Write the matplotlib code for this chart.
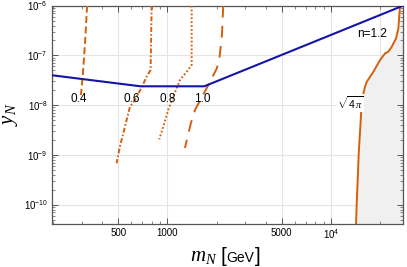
import matplotlib
matplotlib.use("Agg")
import matplotlib.pyplot as plt
import numpy as np

plt.rcParams['font.family'] = ['Liberation Sans', 'DejaVu Sans']
plt.rcParams['mathtext.fontset'] = 'custom'
plt.rcParams['mathtext.rm'] = 'Liberation Sans'
plt.rcParams['mathtext.sf'] = 'Liberation Sans'
plt.rcParams['mathtext.it'] = 'Liberation Serif:italic'
plt.rcParams['lines.scale_dashes'] = False

# ---- data ----
blue_m = [197, 685, 1680, 27540]
blue_y = [4.0e-8, 2.4e-8, 2.4e-8, 1e-6]

c04_m = [323, 313, 304, 296]
c04_y = [1e-6, 1.62e-7, 4.05e-8, 1.6e-8]
c06_m = [801, 789, 746, 696, 633, 590, 550, 512, 489]
c06_y = [1e-6, 5.1e-8, 3.74e-8, 2.29e-8, 1.27e-8, 9.3e-9, 3.7e-9, 1.47e-9, 6.8e-10]
c08_m = [1406, 1406, 1311, 1193, 1085, 1011, 943, 891]
c08_y = [1e-6, 6.43e-8, 4.71e-8, 3.21e-8, 1.48e-8, 8.0e-9, 3.7e-9, 2.06e-9]
c10_m = [2194, 2154, 2080, 2008, 1820, 1649, 1473, 1392, 1279]
c10_y = [1e-6, 2.58e-7, 8.89e-8, 5.6e-8, 2.93e-8, 1.6e-8, 8.0e-9, 4.39e-9, 1.38e-9]
pert_m = [26400, 25800, 24980, 23510, 22410, 21390, 19940, 18150, 16540, 16140,
          15410, 15190, 14770, 14360, 14220]
pert_y = [1e-6, 3.51e-7, 2.21e-7, 1.5e-7, 1.19e-7, 1.1e-7, 8.1e-8, 4.71e-8, 2.96e-8,
          2.35e-8, 1.27e-8, 5.04e-9, 1.08e-9, 1.07e-10, 4.1e-11]

curve_labels = ['0.4', '0.6', '0.8', '1.0']
label_m = [289, 604, 1003, 1642]
label_y = 1.33e-8

x_ticks = [500, 1000, 5000, 1e4]
x_ticklabels = ['500', '1000', '5000', r'$10^{4}$']
y_ticks = [1e-10, 1e-9, 1e-8, 1e-7, 1e-6]
y_ticklabels = [r'$10^{-10}$', r'$10^{-9}$', r'$10^{-8}$', r'$10^{-7}$', r'$10^{-6}$']
grid_x = [500, 1000, 5000, 1e4, 2e4]

xlim = (197, 27540)
ylim = (4.1e-11, 1e-6)

W, H = 407, 267
fig = plt.figure(figsize=(W/100, H/100), dpi=100)
ax = fig.add_axes([52/W, 1-224/H, (403-52)/W, (224-5.7)/H])
ax.set_xscale('log')
ax.set_yscale('log')
ax.set_xlim(*xlim)
ax.set_ylim(*ylim)

gridc = '#e4e4e4'
for g in grid_x:
    ax.axvline(g, color=gridc, lw=0.8, zorder=0)
for g in y_ticks:
    ax.axhline(g, color=gridc, lw=0.8, zorder=0)

orange = '#d4600e'
ax.fill_betweenx(pert_y, pert_m, xlim[1], color='#f0f0f0', zorder=1, lw=0)
ax.plot(pert_m, pert_y, color=orange, lw=1.4, zorder=3)

ax.plot(c04_m, c04_y, color=orange, lw=1.4, dashes=(5, 2.5), zorder=3)
ax.plot(c06_m, c06_y, color=orange, lw=1.4, dashes=(3.5, 1.5, 1.2, 1.5), zorder=3)
ax.plot(c08_m, c08_y, color=orange, lw=1.4, dashes=(1.3, 1.5), zorder=3)
ax.plot(c10_m, c10_y, color=orange, lw=1.4, dashes=(8.5, 6), zorder=3)

ax.plot(blue_m, blue_y, color='#1414a8', lw=1.5, zorder=4)

for lab, m in zip(curve_labels, label_m):
    ax.text(m, label_y, lab, fontsize=8.5, ha='center', va='center', zorder=5)
ax.text(17750, 2.7e-7, 'n=1.2', fontsize=8.5, ha='center', va='center', zorder=5)
ax.text(13070, 1.11e-8, r'$\sqrt{4\,\pi}$', fontsize=7.5, ha='center', va='center',
        zorder=5, bbox=dict(facecolor='white', edgecolor='none', pad=0.5))

ax.set_xticks(x_ticks)
ax.set_xticklabels(x_ticklabels)
ax.set_yticks(y_ticks)
ax.set_yticklabels(y_ticklabels)
minor_x = [v*10**k for k in (2, 3, 4) for v in range(1, 10)]
ax.set_xticks([v for v in minor_x if xlim[0] <= v <= xlim[1] and v not in x_ticks], minor=True)
minor_y = [v*10.0**k for k in range(-11, -6) for v in range(2, 10)]
ax.set_yticks([v for v in minor_y if ylim[0] <= v <= ylim[1]], minor=True)
ax.tick_params(which='both', direction='in', top=True, right=True, color='#555555',
               labelsize=7, pad=3)
ax.tick_params(which='major', length=4, width=0.7)
ax.tick_params(which='minor', length=2, width=0.5)
ax.tick_params(axis='x', which='both', labeltop=False)
for s in ax.spines.values():
    s.set_color('#555555')
    s.set_linewidth(0.9)

def fx(px):
    return px / W
def fy(py):
    return 1 - py / H

fig.text(fx(11), fy(114), r'$y_{N}$', fontsize=15, rotation=90, ha='center', va='center')
fig.text(fx(190), fy(261.5), r'$m_{N}$', fontsize=15, ha='left', va='baseline')
fig.text(fx(220), fy(262.5), '[', fontsize=15, ha='left', va='baseline')
fig.text(fx(226.5), fy(261.5), 'GeV', fontsize=10, ha='left', va='baseline')
fig.text(fx(255), fy(262.5), ']', fontsize=15, ha='left', va='baseline')

fig.savefig('out.png', dpi=100)
